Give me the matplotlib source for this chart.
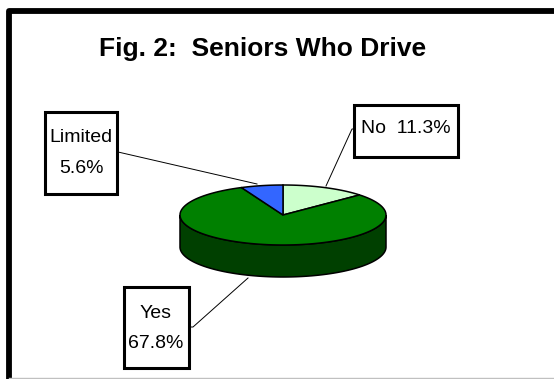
import numpy as np
import matplotlib
matplotlib.use("Agg")
from matplotlib import pyplot as plt
from matplotlib.patches import Polygon, Rectangle

# survey shares (percent), drawn clockwise from 12 o'clock
labels = ["No", "Yes", "Limited"]
values = [11.3, 67.8, 5.6]
top_colors = ["#ccffcc", "#008000", "#3366ff"]
side_colors = ["#99cc99", "#004000", "#1a3380"]

plt.rcParams["font.family"] = ["Liberation Sans", "DejaVu Sans"]

fig = plt.figure(figsize=(5.54, 3.79), dpi=100)
ax = fig.add_axes([0, 0, 1, 1])
ax.set_xlim(0, 554)
ax.set_ylim(379, 0)
ax.axis("off")

# pie geometry (pixel units)
cx, cy, rx, ry, depth = 283, 215, 103, 30, 32


def pt(theta, dy=0):
    t = np.radians(theta)
    return np.column_stack([cx + rx * np.cos(t), cy - ry * np.sin(t) + dy])


fracs = np.array(values) / sum(values) * 360
ends = 90 - np.cumsum(fracs)
starts = ends + fracs

# side wall: only the front half (180..360 deg) is visible
for s, e, col in zip(starts, ends, side_colors):
    seg = np.linspace(e, s, 200) % 360
    seg = np.sort(seg[(seg >= 180) & (seg <= 360)])
    if len(seg) < 2:
        continue
    top = pt(seg)
    bot = pt(seg[::-1], depth)
    ax.add_patch(Polygon(np.vstack([top, bot]), closed=True, facecolor=col,
                         edgecolor="black", lw=1.1, zorder=2))

# top face wedges
for s, e, col in zip(starts, ends, top_colors):
    arc = pt(np.linspace(s, e, 120))
    poly = np.vstack([[cx, cy], arc])
    ax.add_patch(Polygon(poly, closed=True, facecolor=col,
                         edgecolor="black", lw=1.1, zorder=3))

# leader lines
ax.plot([118, 257], [152, 184], color="black", lw=0.7, zorder=4)
ax.plot([355, 352, 326], [129, 129, 186], color="black", lw=0.7, zorder=4)
ax.plot([189, 193, 248], [327, 327, 278], color="black", lw=0.7, zorder=4)

# label boxes
boxes = {"No": (354, 105, 104, 52), "Yes": (124, 287, 65, 81),
         "Limited": (45, 112, 72, 82)}
for name, (x, y, w, h) in boxes.items():
    ax.add_patch(Rectangle((x, y), w, h, facecolor="white", edgecolor="black",
                           lw=2.2, zorder=5))

fs = 14
ax.text(406, 133, f"No  {values[0]}%", ha="center", va="baseline",
        fontsize=fs, zorder=6)
ax.text(156, 318, labels[1], ha="center", va="baseline", fontsize=fs, zorder=6)
ax.text(156, 348, f"{values[1]}%", ha="center", va="baseline", fontsize=fs, zorder=6)
ax.text(81, 142, labels[2], ha="center", va="baseline", fontsize=fs, zorder=6)
ax.text(81, 173, f"{values[2]}%", ha="center", va="baseline", fontsize=fs, zorder=6)

# title
ax.text(263, 56, "Fig. 2:  Seniors Who Drive", ha="center", va="baseline",
        fontsize=19, fontweight="bold")

# chart frame
ax.plot([9, 9, 554], [379, 11, 11], color="black", lw=4.2, solid_capstyle="butt")
ax.plot([9, 554], [377.5, 377.5], color="#c0c0c0", lw=1)

fig.savefig("out.png", dpi=100)
